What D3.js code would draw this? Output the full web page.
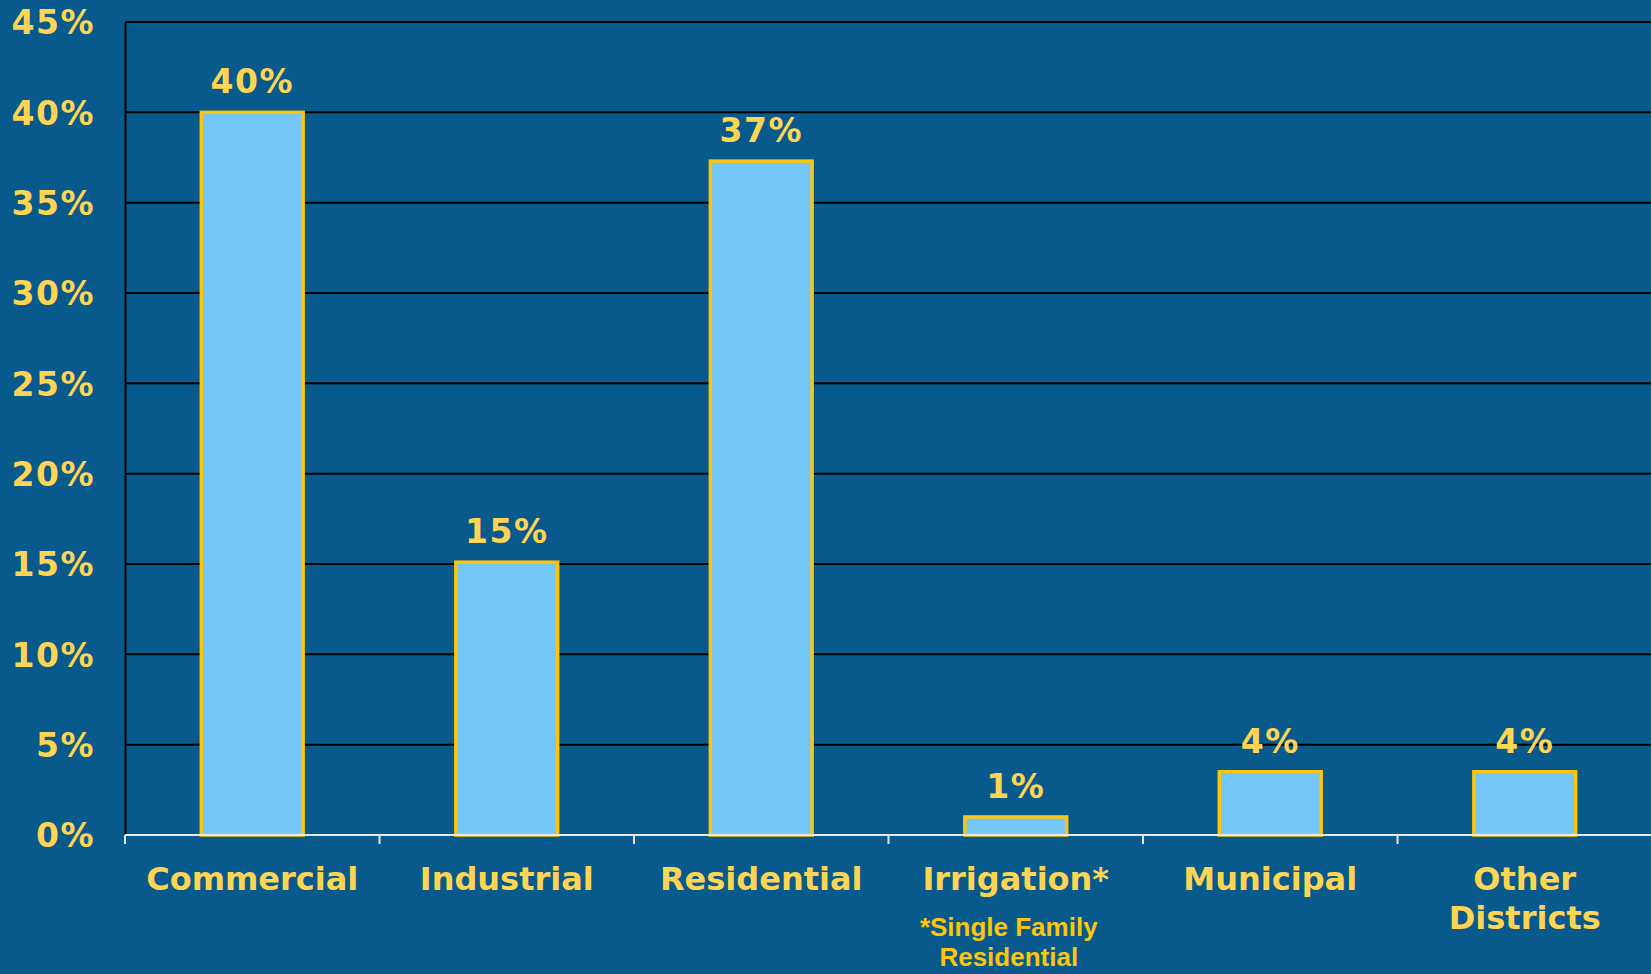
<!DOCTYPE html>
<html>
<head>
<meta charset="utf-8">
<script src="https://cdn.jsdelivr.net/npm/d3@7"></script>
<style>
  body { margin:0; background:#085a8c; }
  svg { display:block; }
  .tick text { font-family:"DejaVu Sans", Verdana, sans-serif; font-weight:bold; }
</style>
</head>
<body>
<svg id="chart"></svg>
<script>
// data
var categories = ["Commercial", "Industrial", "Residential", "Irrigation*", "Municipal", "Other Districts"]
var shares = [40, 15.1, 37.3, 1.0, 3.5, 3.5]
var shareLabels = ["40%", "15%", "37%", "1%", "4%", "4%"]
var yTicks = [0, 5, 10, 15, 20, 25, 30, 35, 40, 45]
var footnote = ["*Single Family", "Residential"]

var screen = {width:1651, height:974}
var margins = {top:22, bottom:139, left:125, right:-1}
var graph = {
    width: screen.width - margins.left - margins.right,
    height: screen.height - margins.top - margins.bottom
}

var svg = d3.select("#chart")
    .attr("width", screen.width)
    .attr("height", screen.height)

svg.append("rect")
    .attr("width", screen.width)
    .attr("height", screen.height)
    .attr("fill", "#085a8c")

var g = svg.append("g")
    .attr("transform", "translate(" + margins.left + "," + margins.top + ")")

var xScale = d3.scaleBand()
    .domain(categories)
    .range([0, graph.width])
    .paddingInner(0.6)
    .paddingOuter(0.3)

var yScale = d3.scaleLinear()
    .domain([0, 45])
    .range([graph.height, 0])

// gridlines
g.append("g")
    .selectAll("line")
    .data(yTicks.filter(function(t){ return t > 0 }))
    .enter()
    .append("line")
    .attr("x1", 0)
    .attr("x2", graph.width)
    .attr("y1", function(t){ return yScale(t) })
    .attr("y2", function(t){ return yScale(t) })
    .attr("stroke", "#000")
    .attr("stroke-width", 2)

// y axis
var yAxis = d3.axisLeft(yScale)
    .tickValues(yTicks)
    .tickSize(0)
    .tickPadding(30)
    .tickFormat(function(d){ return d + "%" })

var yG = g.append("g").call(yAxis)
yG.select(".domain").attr("stroke", "#000").attr("stroke-width", 2)
yG.selectAll("text")
    .attr("fill", "#fed553")
    .style("font-size", "33px")
    .style("letter-spacing", "1.5px")
    .attr("dy", "0.36em")

// bars
g.append("g")
    .selectAll("rect")
    .data(shares)
    .enter()
    .append("rect")
    .attr("x", function(d, i){ return xScale(categories[i]) })
    .attr("y", function(d){ return yScale(d) })
    .attr("width", xScale.bandwidth())
    .attr("height", function(d){ return graph.height - yScale(d) })
    .attr("fill", "#73c6f6")
    .attr("stroke", "#fec50a")
    .attr("stroke-width", 3.5)

// value labels
g.append("g")
    .selectAll("text")
    .data(shares)
    .enter()
    .append("text")
    .text(function(d, i){ return shareLabels[i] })
    .attr("x", function(d, i){ return xScale(categories[i]) + xScale.bandwidth() / 2 })
    .attr("y", function(d){ return yScale(d) - 19 })
    .attr("text-anchor", "middle")
    .attr("fill", "#fed553")
    .style("font-family", "'DejaVu Sans', Verdana, sans-serif")
    .style("font-weight", "bold")
    .style("font-size", "33px")
    .style("letter-spacing", "1.5px")

// x axis (white baseline, ticks between categories)
var xAxisG = g.append("g")
    .attr("transform", "translate(0," + graph.height + ")")
xAxisG.append("line")
    .attr("x1", 0)
    .attr("x2", graph.width)
    .attr("stroke", "#e8e8e8")
    .attr("stroke-width", 2)
xAxisG.selectAll(".sep")
    .data(d3.range(categories.length + 1))
    .enter()
    .append("line")
    .classed("sep", true)
    .attr("x1", function(i){ return i * graph.width / categories.length })
    .attr("x2", function(i){ return i * graph.width / categories.length })
    .attr("y1", 0)
    .attr("y2", 9)
    .attr("stroke", "#e8e8e8")
    .attr("stroke-width", 2)

// category labels
var catLabels = xAxisG.selectAll(".cat")
    .data(categories)
    .enter()
    .append("text")
    .classed("cat", true)
    .attr("x", function(d){ return xScale(d) + xScale.bandwidth() / 2 })
    .attr("y", 55)
    .attr("text-anchor", "middle")
    .attr("fill", "#fed553")
    .style("font-family", "'DejaVu Sans', Verdana, sans-serif")
    .style("font-weight", "bold")
    .style("font-size", "32px")
catLabels.each(function(d){
    var words = d === "Other Districts" ? ["Other", "Districts"] : [d]
    var t = d3.select(this)
    words.forEach(function(w, i){
        t.append("tspan")
            .attr("x", xScale(d) + xScale.bandwidth() / 2)
            .attr("dy", i === 0 ? 0 : 39)
            .text(w)
    })
})

// footnote under Irrigation
var fx = xScale("Irrigation*") + xScale.bandwidth() / 2 - 7
xAxisG.append("text")
    .attr("text-anchor", "middle")
    .attr("fill", "#fec60a")
    .style("font-family", "'Liberation Sans', Arial, sans-serif")
    .style("font-weight", "bold")
    .style("font-size", "26px")
    .selectAll("tspan")
    .data(footnote)
    .enter()
    .append("tspan")
    .attr("x", fx)
    .attr("y", function(d, i){ return 101 + i * 30 })
    .text(function(d){ return d })
</script>
</body>
</html>
